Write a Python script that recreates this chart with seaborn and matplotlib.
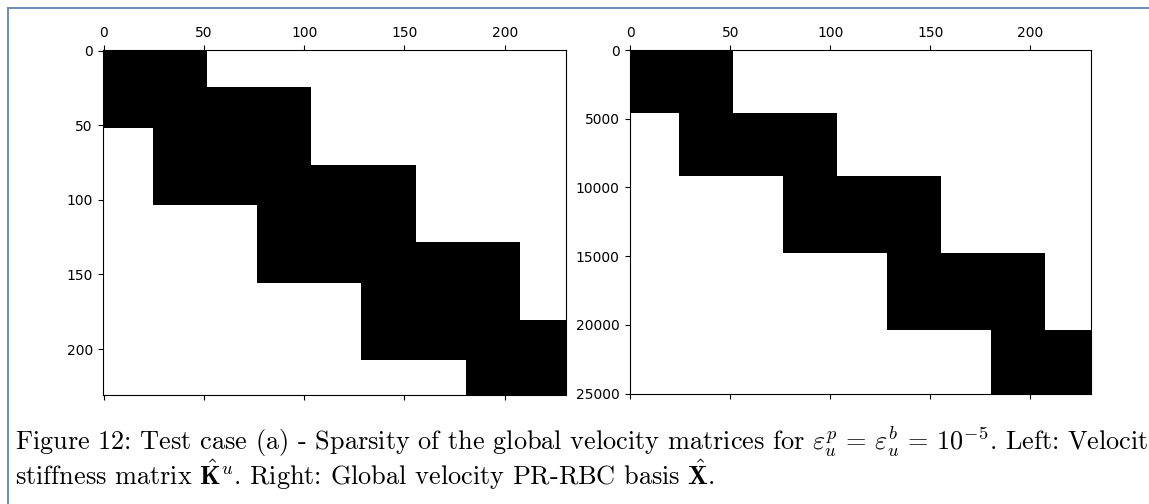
import numpy as np
import matplotlib
matplotlib.use("Agg")
import matplotlib.pyplot as plt
from matplotlib.colors import ListedColormap
from matplotlib.lines import Line2D
import seaborn as sns

# Column spans (start, end) of the five spectral elements in the velocity dofs
elem_col_start = [0, 25, 77, 129, 181]
elem_col_end = [52, 104, 156, 208, 231]
n_dofs = 231

# Row blocks of the global PR-RBC basis, one block per element
basis_row_bounds = [0, 4600, 9160, 14760, 20360, 25000]
row_stride = 20  # rows of the basis grouped per heatmap cell

x_ticks = [0, 50, 100, 150, 200]
k_y_ticks = [0, 50, 100, 150, 200]
x_y_ticks = [0, 5000, 10000, 15000, 20000, 25000]

caption = (r"Figure 12: Test case (a) - Sparsity of the global velocity matrices for "
           r"$\varepsilon_u^p \,=\, \varepsilon_u^b \,=\, 10^{-5}$. Left: Velocity"
           "\n"
           r"stiffness matrix $\hat{\mathbf{K}}^u$. Right: Global velocity "
           r"PR-RBC basis $\hat{\mathbf{X}}$.")

plt.rcParams["mathtext.fontset"] = "cm"

# Assemble the sparsity patterns
K = np.zeros((n_dofs, n_dofs), dtype=int)
for s, e in zip(elem_col_start, elem_col_end):
    K[s:e, s:e] = 1

n_rows = basis_row_bounds[-1] // row_stride
X = np.zeros((n_rows, n_dofs), dtype=int)
for i, (s, e) in enumerate(zip(elem_col_start, elem_col_end)):
    r0 = basis_row_bounds[i] // row_stride
    r1 = basis_row_bounds[i + 1] // row_stride
    X[r0:r1, s:e] = 1

cmap = ListedColormap(["white", "black"])

W, H = 1149, 504
fig = plt.figure(figsize=(W / 100, H / 100), dpi=100)
fig.patch.set_facecolor("white")

ax1 = fig.add_axes([102.5 / W, 1 - 394.5 / H, 463.5 / W, 344.5 / H])
ax2 = fig.add_axes([629.5 / W, 1 - 393.5 / H, 461.5 / W, 343.5 / H])

sns.heatmap(K, ax=ax1, cmap=cmap, vmin=0, vmax=1, cbar=False,
            xticklabels=False, yticklabels=False)
sns.heatmap(X, ax=ax2, cmap=cmap, vmin=0, vmax=1, cbar=False,
            xticklabels=False, yticklabels=False)


def spy_style(ax, yticks, ypos):
    ax.set_xticks([t + 0.5 for t in x_ticks])
    ax.set_xticklabels([str(t) for t in x_ticks])
    ax.set_yticks(ypos)
    ax.set_yticklabels([str(t) for t in yticks])
    ax.tick_params(axis="x", top=True, bottom=True, labeltop=True,
                   labelbottom=False, direction="out", length=3.5,
                   width=0.8, labelsize=10, color="black", pad=3.5)
    ax.tick_params(axis="y", left=True, right=False, labelleft=True,
                   direction="out", length=3.5, width=0.8, labelsize=10,
                   color="black", pad=3.5)
    for lab in ax.get_yticklabels():
        lab.set_rotation(0)
    for sp in ax.spines.values():
        sp.set_visible(True)
        sp.set_linewidth(0.8)
        sp.set_color("black")


spy_style(ax1, k_y_ticks, [t + 0.5 for t in k_y_ticks])
spy_style(ax2, x_y_ticks, [t / row_stride for t in x_y_ticks])

# Frame around the figure block
border = "#6585ad"
fig.add_artist(Line2D([7.5 / W, 7.5 / W], [0, 1 - 7.5 / H],
                      transform=fig.transFigure, color=border, lw=1.3))
fig.add_artist(Line2D([7.5 / W, 1], [1 - 7.5 / H, 1 - 7.5 / H],
                      transform=fig.transFigure, color=border, lw=1.3))

fig.text(15 / W, 1 - 485 / H, caption, family="cmr10", fontsize=18.9,
         ha="left", va="baseline", linespacing=0.95)

fig.savefig("out.png", dpi=100)
